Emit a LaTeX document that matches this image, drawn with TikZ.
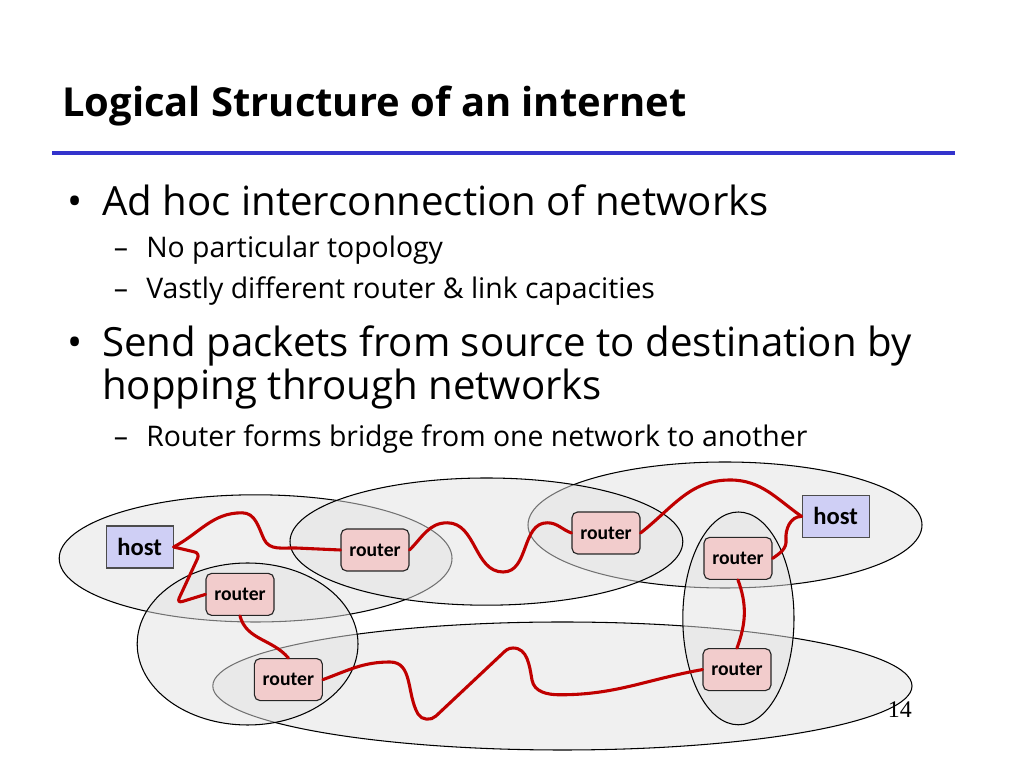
\documentclass[tikz,border=0pt]{standalone}
\usepackage{fontspec}
\setmainfont{Open Sans}
\newfontfamily\labelfont{Carlito}
\newfontfamily\pagefont{Liberation Serif}
\definecolor{rulerblue}{RGB}{51,51,204}
\definecolor{linkred}{RGB}{192,0,0}
\definecolor{routerpink}{RGB}{242,204,204}
\definecolor{hostblue}{RGB}{207,207,245}

\begin{document}
\begin{tikzpicture}[
  net/.style={draw=black, line width=0.75pt, fill=black!11, fill opacity=0.5},
  router/.style={draw=black!85, line width=0.8pt, rounded corners=4pt,
    fill=routerpink, minimum width=1.7cm, minimum height=1.05cm, inner sep=0pt,
    font=\labelfont\bfseries\fontsize{14}{16}\selectfont},
  host/.style={draw=black!70, line width=0.8pt, fill=hostblue,
    minimum width=1.675cm, minimum height=1.05cm, inner sep=0pt,
    font=\labelfont\bfseries\fontsize{17.5}{20}\selectfont},
  link/.style={draw=linkred, line width=2.2pt, line cap=round},
  point/.style={anchor=base west, inner sep=0pt, font=\fontsize{28.6}{34}\selectfont},
  subpoint/.style={anchor=base west, inner sep=0pt, font=\fontsize{20.2}{24}\selectfont},
]
  \fill[white] (0,0) rectangle (25.6,19.2);
  \useasboundingbox (0,0) rectangle (25.6,19.2);

  % --- title and rule ---
  \node[anchor=base west, inner sep=0pt, font=\bfseries\fontsize{28.4}{32}\selectfont]
    (title) at (1.55,16.275) {Logical Structure of an internet};
  \draw[rulerblue, line width=2.6pt] (1.3,15.375) -- (23.875,15.375);

  % --- bullets ---
  \node[point] (adhoc) at (2.55,13.8) {\llap{•\hspace{14pt}}Ad hoc interconnection of networks};
  \node[subpoint] (topo) at (3.65,12.75) {\llap{–\hspace{13pt}}No particular topology};
  \node[subpoint] (caps) at (3.65,11.725) {\llap{–\hspace{13pt}}Vastly different router \& link capacities};
  \node[point] (send) at (2.55,10.28) {\llap{•\hspace{14pt}}Send packets from source to destination by};
  \node[point] (hop) at (2.55,9.2) {hopping through networks};
  \node[subpoint] (bridge) at (3.65,8.04) {\llap{–\hspace{13pt}}Router forms bridge from one network to another};

  % --- networks (drawn back to front) ---
  \draw[net] (18.125,6.075) ellipse [x radius=4.925, y radius=1.575];
  \draw[net] (6.39,5.24) ellipse [x radius=4.91, y radius=1.59];
  \draw[net] (12.16,5.66) ellipse [x radius=4.91, y radius=1.59];
  \draw[net] (14.06,2.05) ellipse [x radius=8.74, y radius=1.6];
  \draw[net] (6.19,3.1) ellipse [x radius=2.76, y radius=2.025];
  \draw[net] (18.46,3.74) ellipse [x radius=1.39, y radius=2.66];

  % --- hosts and routers ---
  \node[host] (h1) at (3.49,5.525) {host};
  \node[host] (h2) at (20.89,6.29) {host};
  \node[router] (r1) at (9.375,5.45) {router};
  \node[router] (r2) at (6.0,4.34) {router};
  \node[router] (r3) at (7.21,2.21) {router};
  \node[router] (r4) at (15.15,5.875) {router};
  \node[router] (r5) at (18.45,5.24) {router};
  \node[router] (r6) at (18.425,2.46) {router};

  % --- links ---
  \draw[link] (h1.east) to[out=28,in=180] (6.05,6.38) to[out=0,in=115] (6.6,5.72)
    to[out=-65,in=178] (7.4,5.5) -- (r1.west);
  \draw[link, rounded corners=4pt] (h1.east) -- (5.0,5.37) -- (4.42,4.12) -- (r2.west);
  \draw[link] (r2.south) to[out=-75,in=130] (r3.north);
  \draw[link] (r1.east) to[out=45,in=180] (11.18,6.13) to[out=0,in=180] (12.58,4.9)
    to[out=0,in=180] (13.68,6.13) to[out=0,in=160] (r4.west);
  \draw[link] (r4.east) to[out=38,in=180] (18.25,7.2) to[out=0,in=145] (h2.west);
  \draw[link] (r5.east) to[out=35,in=-85] (19.65,5.7) to[out=95,in=180] (h2.west);
  \draw[link] (r5.south) to[out=-70,in=70] (r6.north);
  \draw[link] (r3.east) to[out=20,in=180] (9.75,2.65) to[out=0,in=120] (10.45,1.35)
    to[out=-60,in=225] (10.9,1.3) -- (12.55,2.85) to[out=45,in=180] (12.825,3.0)
    to[out=0,in=100] (13.3,2.2) to[out=-80,in=180] (14.0,1.83) to[out=0,in=190] (r6.west);

  % --- page number ---
  \node[anchor=base east, inner sep=0pt, font=\pagefont\fontsize{17}{20}\selectfont]
    (pagenum) at (22.8,1.25) {14};
\end{tikzpicture}
\end{document}
